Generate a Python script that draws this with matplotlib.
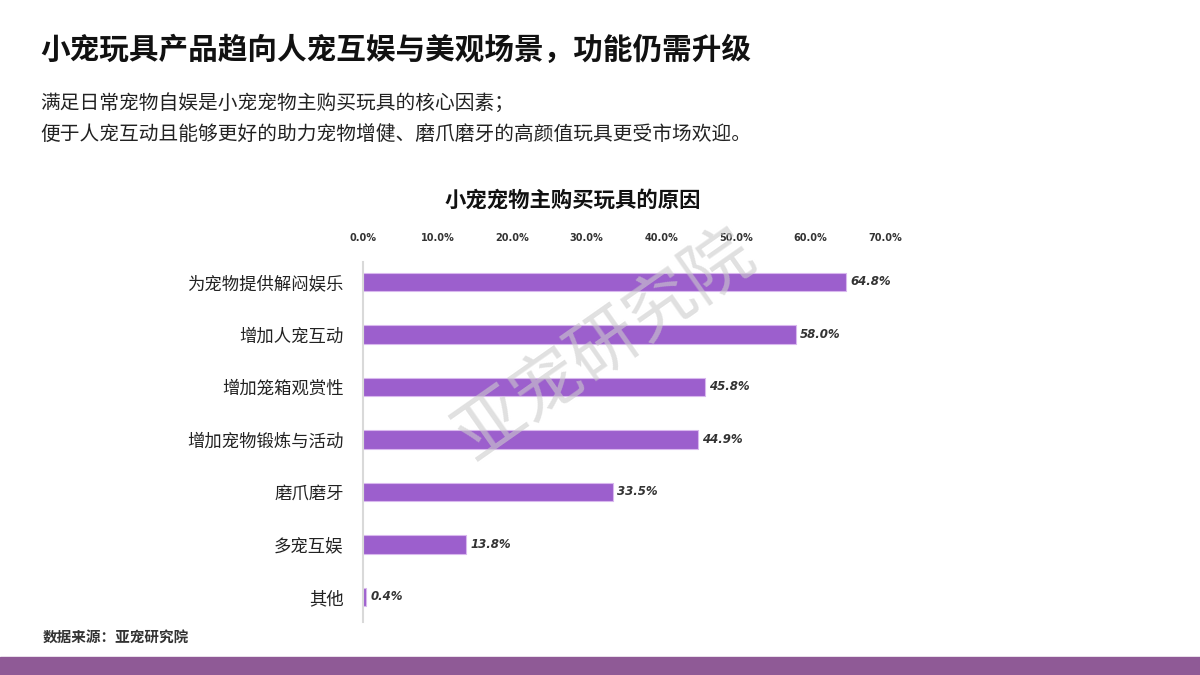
import matplotlib.pyplot as plt

plt.rcParams['font.family'] = ['Noto Sans CJK SC', 'DejaVu Sans']

categories = ['为宠物提供解闷娱乐', '增加人宠互动', '增加笼箱观赏性', '增加宠物锻炼与活动',
              '磨爪磨牙', '多宠互娱', '其他']
values = [64.8, 58.0, 45.8, 44.9, 33.5, 13.8, 0.4]
ticks = [0, 10, 20, 30, 40, 50, 60, 70]

fig = plt.figure(figsize=(12, 6.75), dpi=100)

fig.text(40/1200, 1-50/675, '小宠玩具产品趋向人宠互娱与美观场景，功能仍需升级',
         fontsize=21.3, fontweight='bold', va='center', color='#111111')
fig.text(40/1200, 1-103/675, '满足日常宠物自娱是小宠宠物主购买玩具的核心因素；',
         fontsize=14.2, va='center', color='#222222')
fig.text(40/1200, 1-135/675, '便于人宠互动且能够更好的助力宠物增健、磨爪磨牙的高颜值玩具更受市场欢迎。',
         fontsize=14.2, va='center', color='#222222')
fig.text(573/1200, 1-200/675, '小宠宠物主购买玩具的原因',
         fontsize=15.4, fontweight='bold', ha='center', va='center', color='#111111')
fig.text(43/1200, 1-637/675, '数据来源：亚宠研究院',
         fontsize=10.5, fontweight='bold', va='center', color='#333333')

ax = fig.add_axes([363/1200, 1-622/675, 522/1200, 360/675])
y = list(range(len(categories)))
ax.barh(y, values, height=0.35, color='#9c5fcd', edgecolor='#d9b8ee', linewidth=0.8)
for yi, v in zip(y, values):
    ax.text(v + 0.6, yi, f'{v:.1f}%', fontsize=8.5, style='italic', fontweight='bold',
            va='center', ha='left', color='#333333', family='DejaVu Sans')

ax.set_xlim(0, 70)
ax.set_ylim(6.48, -0.38)
ax.set_yticks(y)
ax.set_yticklabels(categories, fontsize=12.5, color='#222222')
ax.set_xticks(ticks)
ax.set_xticklabels([f'{t:.1f}%' for t in ticks], fontsize=7, fontweight='bold',
                   color='#333333', family='DejaVu Sans')
ax.xaxis.tick_top()
ax.tick_params(axis='both', length=0)
ax.tick_params(axis='x', pad=14)
ax.tick_params(axis='y', pad=14)
for s in ['top', 'right', 'bottom']:
    ax.spines[s].set_visible(False)
ax.spines['left'].set_color('#d9d9d9')
ax.spines['left'].set_linewidth(1.5)

# watermark
fig.text(605/1200, 1-345/675, '亚宠研究院', fontsize=50, color='#cccccc', alpha=0.6,
         rotation=35, ha='center', va='center')

# bottom band
fig.patches.append(plt.Rectangle((0, 0), 1, 18/675, transform=fig.transFigure,
                                 color='#8f5a96', zorder=0))

fig.savefig('out.png', dpi=100)
